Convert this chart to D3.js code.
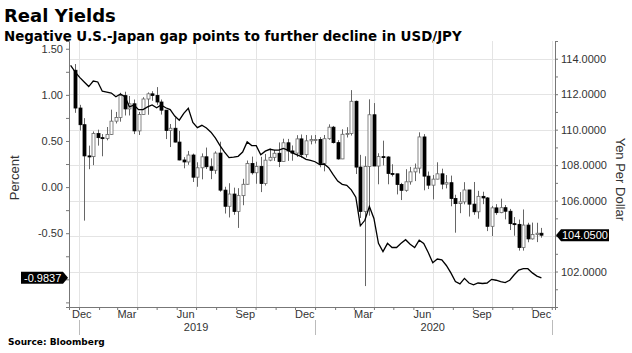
<!DOCTYPE html>
<html>
<head>
<meta charset="utf-8">
<script src="https://cdn.jsdelivr.net/npm/d3@7/dist/d3.min.js"></script>
<style>
    body { margin: 0; background: #fff; }
    text { font-family: "Liberation Sans", Arial, sans-serif; }
    .head { font-family: "DejaVu Sans", Verdana, sans-serif; font-weight: bold; }
</style>
</head>
<body>
<div id="chart-area"></div>
<script>
// weekly USD/JPY bars, first bar week of Dec 21 2018
var firstBar = new Date(2018, 11, 26);
var openP  = [113.35,111.22,110.28,108.52,108.48,109.78,109.55,109.50,109.73,110.48,
              110.69,111.92,111.17,111.46,109.93,110.85,111.73,112.02,111.93,111.56,
              111.10,109.95,110.08,109.30,108.29,108.18,108.57,107.32,107.85,108.47,
              107.91,107.71,108.68,106.59,105.68,106.37,105.39,106.28,106.92,108.09,
              107.57,107.92,106.96,108.28,108.44,108.67,108.20,109.26,108.80,108.68,
              109.48,108.59,109.37,109.44,109.45,108.10,109.49,110.14,109.27,108.35,
              109.74,109.78,111.60,107.89,105.39,107.93,110.84,107.95,108.48,108.46,
              107.53,107.51,106.91,106.58,107.06,107.62,107.83,109.59,107.38,106.87,
              107.21,107.51,106.93,107.01,106.12,105.83,105.93,106.60,105.80,105.37,
              106.24,106.15,104.55,105.59,105.32,105.60,105.40,104.70,104.66,103.35,
              104.62,103.84,104.09,104.16];
var highP  = [113.70,111.40,110.65,109.10,109.90,110.00,109.75,110.15,111.13,111.00,
              112.08,112.14,111.90,111.70,111.00,111.83,112.10,112.17,112.40,111.70,
              111.10,110.32,110.68,109.93,108.45,108.80,108.65,108.16,108.66,108.99,
              108.38,108.78,109.32,106.78,106.98,106.73,106.70,107.23,108.26,108.48,
              108.19,108.47,108.63,108.94,108.86,109.28,109.49,109.48,109.11,109.69,
              109.73,109.70,109.68,109.70,109.58,109.70,110.30,110.21,109.41,110.02,
              110.14,112.23,111.64,108.58,108.50,111.71,111.50,108.67,109.38,108.50,
              108.05,107.51,107.00,107.77,107.90,108.09,109.85,109.75,107.64,107.44,
              108.16,107.80,107.44,107.41,106.33,106.48,107.04,106.60,107.05,106.55,
              106.50,106.20,105.70,105.80,106.11,105.75,105.53,105.07,104.93,105.50,
              104.75,104.76,104.75,104.46];
var lowP   = [110.95,109.95,104.87,107.77,108.00,109.10,108.50,109.40,109.70,110.35,
              110.45,110.80,110.80,109.75,109.70,110.84,110.84,111.63,111.40,110.85,
              109.47,109.02,109.28,108.27,107.82,108.02,107.05,106.78,107.20,107.78,
              107.21,107.51,106.50,105.27,105.05,105.20,104.46,105.74,106.90,107.47,
              106.95,106.48,106.85,108.22,108.24,107.89,108.20,108.24,108.25,108.46,
              108.42,108.43,109.17,109.22,107.88,107.65,109.43,109.22,108.31,108.34,
              109.56,109.67,107.50,105.02,101.18,105.15,107.95,106.92,107.98,106.92,
              107.36,106.35,106.03,106.50,106.90,107.10,107.53,106.58,106.65,106.07,
              107.20,106.64,106.69,105.68,104.19,105.29,105.79,105.10,105.20,104.98,
              105.80,104.28,104.00,105.20,105.29,104.94,104.34,104.02,103.18,103.18,
              103.65,103.80,103.66,103.91];
var closeP = [111.22,110.28,108.52,108.48,109.78,109.55,109.50,109.73,110.48,110.69,
              111.92,111.17,111.46,109.93,110.85,111.73,112.02,111.93,111.56,111.10,
              109.95,110.08,109.30,108.29,108.18,108.57,107.32,107.85,108.47,107.91,
              107.71,108.68,106.59,105.68,106.37,105.39,106.28,106.92,108.09,107.57,
              107.92,106.96,108.28,108.44,108.67,108.20,109.26,108.80,108.68,109.48,
              108.59,109.37,109.44,109.45,108.10,109.49,110.14,109.27,108.35,109.74,
              109.78,111.60,107.89,105.39,107.93,110.84,107.95,108.48,108.46,107.53,
              107.51,106.91,106.58,107.06,107.62,107.83,109.59,107.38,106.87,107.21,
              107.51,106.93,107.01,106.12,105.83,105.93,106.60,105.80,105.37,106.24,
              106.15,104.55,105.59,105.32,105.60,105.40,104.70,104.66,103.35,104.62,
              103.84,104.09,104.16,104.05];

// US minus Japan 10y real yield gap, weekly
var firstGap = new Date(2018, 11, 19);
var gapVals = [1.32,1.25,1.19,1.14,1.09,1.15,1.14,1.04,1.03,1.02,
               0.98,1.01,0.98,0.87,0.89,0.84,0.84,0.87,0.89,0.86,
               0.89,0.86,0.84,0.77,0.725,0.80,0.855,0.70,0.645,0.67,
               0.64,0.595,0.53,0.45,0.38,0.32,0.326,0.334,0.38,0.49,
               0.45,0.45,0.35,0.39,0.41,0.40,0.40,0.42,0.40,0.37,
               0.35,0.33,0.30,0.29,0.275,0.245,0.25,0.21,0.135,0.065,
               0.03,0.02,-0.03,-0.11,-0.42,-0.36,-0.21,-0.34,-0.61,-0.70,
               -0.61,-0.655,-0.655,-0.61,-0.57,-0.62,-0.655,-0.575,-0.61,-0.71,
               -0.82,-0.78,-0.79,-0.85,-0.93,-1.025,-1.05,-0.99,-1.04,-1.06,
               -1.04,-1.045,-1.04,-1.0,-1.01,-1.025,-1.035,-1.01,-0.95,-0.90,
               -0.885,-0.885,-0.93,-0.965,-0.9837];

var leftTicks = [-0.5, 0, 0.5, 1.0, 1.5];
var rightTicks = [102, 104, 106, 108, 110, 112, 114];
var monthLabels = ["Dec", "Mar", "Jun", "Sep", "Dec", "Mar", "Jun", "Sep", "Dec"];
var monthLabelDates = [new Date(2018,11,16), new Date(2019,2,16), new Date(2019,5,15), new Date(2019,8,15),
                       new Date(2019,11,16), new Date(2020,2,16), new Date(2020,5,15), new Date(2020,8,15),
                       new Date(2020,11,16)];
var yearLabels = ["2019", "2020"];

var W = 632, H = 353;
var margin = {top: 41, right: 77, bottom: 46, left: 69},
    width = W - margin.left - margin.right,
    height = H - margin.top - margin.bottom;

var svg = d3.select("#chart-area")
    .append("svg")
        .attr("width", W)
        .attr("height", H);

svg.append("text")
    .attr("class", "head")
    .attr("x", 4)
    .attr("y", 22)
    .attr("font-size", "18px")
    .attr("fill", "#000")
    .text("Real Yields");

svg.append("text")
    .attr("class", "head")
    .attr("x", 4)
    .attr("y", 41)
    .attr("font-size", "13.4px")
    .attr("fill", "#000")
    .text("Negative U.S.-Japan gap points to further decline in USD/JPY");

svg.append("text")
    .attr("class", "head")
    .attr("x", 8)
    .attr("y", 345)
    .attr("font-size", "9px")
    .attr("fill", "#000")
    .text("Source: Bloomberg");

var g = svg.append("g")
    .attr("transform", "translate(" + margin.left + "," + margin.top + ")");

var x = d3.scaleTime()
    .domain([new Date(2018, 11, 16, 12), new Date(2021, 0, 6)])
    .range([0, width]);

var yL = d3.scaleLinear()
    .domain([-1.30, 1.584])
    .range([height, 0]);

var yR = d3.scaleLinear()
    .domain([100, 115])
    .range([height, 0]);

// grid
var quarters = d3.timeMonth.every(3).range(new Date(2019, 0, 1), new Date(2021, 0, 2));
g.selectAll(".vgrid")
    .data(quarters)
    .enter().append("line")
        .attr("class", "vgrid")
        .attr("x1", d => Math.round(x(d)) + 0.5)
        .attr("x2", d => Math.round(x(d)) + 0.5)
        .attr("y1", 0)
        .attr("y2", height)
        .attr("stroke", "#e4e4e4");

g.selectAll(".hgrid")
    .data(rightTicks)
    .enter().append("line")
        .attr("class", "hgrid")
        .attr("x1", 0)
        .attr("x2", width)
        .attr("y1", d => Math.round(yR(d)) + 0.5)
        .attr("y2", d => Math.round(yR(d)) + 0.5)
        .attr("stroke", "#e4e4e4");

// axes
var xAxisCall = d3.axisBottom(x)
    .tickValues(d3.timeMonth.range(new Date(2019, 0, 1), new Date(2021, 0, 2)))
    .tickSize(3)
    .tickFormat("");
g.append("g")
    .attr("class", "x axis")
    .attr("transform", "translate(0," + height + ")")
    .call(xAxisCall);

var labelAxis = g.append("g")
    .attr("transform", "translate(0," + height + ")");
labelAxis.selectAll("text.month")
    .data(monthLabels)
    .enter().append("text")
        .attr("class", "month")
        .attr("x", (d, i) => i === 0 ? 3 : x(monthLabelDates[i]))
        .attr("y", 11)
        .attr("text-anchor", (d, i) => i === 0 ? "start" : "middle")
        .attr("font-size", "11px")
        .attr("fill", "#333")
        .text(d => d);

labelAxis.selectAll("text.year")
    .data(yearLabels)
    .enter().append("text")
        .attr("class", "year")
        .attr("x", d => x(new Date(+d, 6, 1)))
        .attr("y", 24)
        .attr("text-anchor", "middle")
        .attr("font-size", "11px")
        .attr("fill", "#333")
        .text(d => d);

labelAxis.selectAll("line.sep")
    .data([2019, 2020, 2021])
    .enter().append("line")
        .attr("class", "sep")
        .attr("x1", d => Math.round(x(new Date(d, 0, 1))) + 0.5)
        .attr("x2", d => Math.round(x(new Date(d, 0, 1))) + 0.5)
        .attr("y1", 13)
        .attr("y2", 28)
        .attr("stroke", "#bbb");

var yAxisLeft = d3.axisLeft(yL)
    .tickValues(d3.range(-1.25, 1.51, 0.25))
    .tickSize(3)
    .tickFormat(d => leftTicks.some(t => Math.abs(t - d) < 1e-6) ? d.toFixed(2) : "");
g.append("g")
    .attr("class", "y axis")
    .call(yAxisLeft);

var yAxisRight = d3.axisRight(yR)
    .tickValues(d3.range(100, 115.01, 1))
    .tickSize(3)
    .tickFormat(d => rightTicks.indexOf(d) >= 0 ? d.toFixed(4) : "");
g.append("g")
    .attr("class", "y axis")
    .attr("transform", "translate(" + width + ",0)")
    .call(yAxisRight);

g.selectAll(".axis path, .axis line").attr("stroke", "#777");
g.selectAll(".axis text").attr("font-size", "11px").attr("fill", "#333")
    .attr("font-family", "'Liberation Sans', Arial, sans-serif");

// axis titles
svg.append("text")
    .attr("transform", "translate(19," + (margin.top + yL(0.1)) + ") rotate(-90)")
    .attr("text-anchor", "middle")
    .attr("font-size", "13px")
    .attr("fill", "#333")
    .text("Percent");

svg.append("text")
    .attr("transform", "translate(616," + (margin.top + yR(107.2)) + ") rotate(90)")
    .attr("text-anchor", "middle")
    .attr("font-size", "13px")
    .attr("fill", "#333")
    .text("Yen Per Dollar");

// candles
var bars = closeP.map((c, i) => ({
    date: d3.timeDay.offset(firstBar, 7 * i),
    open: openP[i], high: highP[i], low: lowP[i], close: c
}));

var candle = g.selectAll(".candle")
    .data(bars)
    .enter().append("g")
        .attr("class", "candle");

candle.append("line")
    .attr("x1", d => Math.round(x(d.date)) + 0.5)
    .attr("x2", d => Math.round(x(d.date)) + 0.5)
    .attr("y1", d => yR(d.high))
    .attr("y2", d => yR(d.low))
    .attr("stroke", "#666")
    .attr("stroke-width", 1);

candle.append("rect")
    .attr("x", d => Math.round(x(d.date)) - 1)
    .attr("y", d => yR(Math.max(d.open, d.close)))
    .attr("width", 3)
    .attr("height", d => Math.max(1, Math.abs(yR(d.open) - yR(d.close))))
    .attr("fill", d => d.close >= d.open ? "#fff" : "#000")
    .attr("stroke", d => d.close >= d.open ? "#666" : "#000")
    .attr("stroke-width", 0.8);

// yield gap line
var gapData = gapVals.map((v, i) => ({date: d3.timeDay.offset(firstGap, 7 * i), value: v}));
var line = d3.line()
    .x(d => x(d.date))
    .y(d => yL(d.value));

g.append("path")
    .datum(gapData)
    .attr("d", line)
    .attr("fill", "none")
    .attr("stroke", "#000")
    .attr("stroke-width", 1.3);

// last value tags
var lastGap = gapVals[gapVals.length - 1];
var ly = yL(lastGap);
g.append("path")
    .attr("d", "M" + (-1) + "," + ly + " l-5,-6 h-42 v12 h42 z")
    .attr("fill", "#000");
g.append("text")
    .attr("x", -45)
    .attr("y", ly + 4)
    .attr("font-size", "11px")
    .attr("fill", "#fff")
    .text(lastGap.toFixed(4));

var lastPx = closeP[closeP.length - 1];
var ry = yR(lastPx);
g.append("path")
    .attr("d", "M" + (width + 1) + "," + ry + " l5,-6 h48 v12 h-48 z")
    .attr("fill", "#000");
g.append("text")
    .attr("x", width + 7)
    .attr("y", ry + 4)
    .attr("font-size", "11px")
    .attr("fill", "#fff")
    .text(lastPx.toFixed(4));
</script>
</body>
</html>
